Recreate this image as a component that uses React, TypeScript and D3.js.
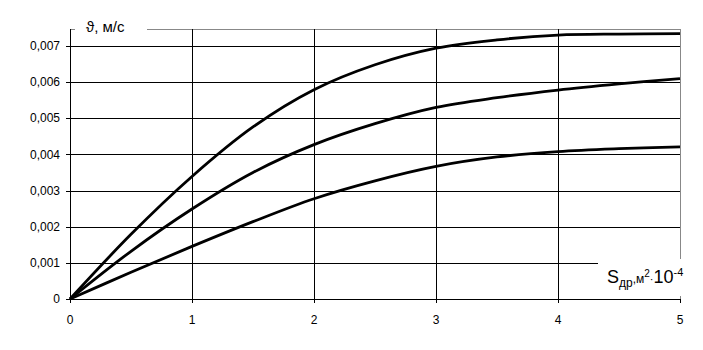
import React from "react";
import * as d3 from "d3";

const xValues = [0, 0.5, 1, 1.5, 2, 2.5, 3, 3.5, 4, 4.5, 5];
const seriesTop = [0, 0.00179, 0.00339, 0.00476, 0.00579, 0.00648, 0.00694, 0.00717, 0.0073, 0.00733, 0.00734];
const seriesMid = [0, 0.00132, 0.00249, 0.0035, 0.00427, 0.00485, 0.0053, 0.00557, 0.00578, 0.00595, 0.0061];
const seriesLow = [0, 0.00074, 0.001455, 0.00214, 0.002775, 0.00327, 0.00367, 0.00393, 0.00408, 0.00416, 0.00421];
const xTicks = [0, 1, 2, 3, 4, 5];
const yTicks = [0, 0.001, 0.002, 0.003, 0.004, 0.005, 0.006, 0.007];

const W = 703;
const H = 350;
const left = 70;
const right = 680;
const bottom = 299;
const top = 29;

export default function App() {
  const x = d3.scaleLinear().domain([0, 5]).range([left, right]);
  const y = d3.scaleLinear().domain([0, 0.007]).range([bottom, 46]);
  const line = d3
    .line<number>()
    .x((_, i) => x(xValues[i]))
    .y((d) => y(d))
    .curve(d3.curveCatmullRom.alpha(0.5));
  const fmt = (v: number) => (v === 0 ? "0" : v.toFixed(3).replace(".", ","));
  const font = "'Liberation Sans', Arial, sans-serif";
  const px = (v: number) => Math.round(v) + 0.5;

  return (
    <svg
      width={W}
      height={H}
      style={{ position: "absolute", left: 0, top: 0, background: "#fff" }}
      fontFamily={font}
    >
      <rect x={0} y={0} width={W} height={H} fill="#fff" />
      {/* frame top & right (gray) */}
      <line x1={left} x2={right} y1={px(top)} y2={px(top)} stroke="#888" strokeWidth={1} />
      <line x1={px(right)} x2={px(right)} y1={top} y2={bottom} stroke="#888" strokeWidth={1} />
      {/* horizontal grid */}
      {yTicks.slice(1).map((t) => (
        <line key={"h" + t} x1={left} x2={right} y1={px(y(t))} y2={px(y(t))} stroke="#000" strokeWidth={1} />
      ))}
      {/* vertical grid */}
      {xTicks.slice(1, 5).map((t) => (
        <line key={"v" + t} x1={px(x(t))} x2={px(x(t))} y1={top} y2={bottom} stroke="#000" strokeWidth={1} />
      ))}
      {/* axes */}
      <line x1={px(left)} x2={px(left)} y1={top} y2={bottom + 4} stroke="#000" strokeWidth={1} />
      <line x1={left} x2={right} y1={px(bottom)} y2={px(bottom)} stroke="#000" strokeWidth={1} />
      {yTicks.map((t) => (
        <line key={"yt" + t} x1={left - 4} x2={left} y1={px(y(t))} y2={px(y(t))} stroke="#000" strokeWidth={1} />
      ))}
      {xTicks.map((t) => (
        <line key={"xt" + t} x1={px(x(t))} x2={px(x(t))} y1={bottom} y2={bottom + 4} stroke="#000" strokeWidth={1} />
      ))}
      {/* curves */}
      {[seriesTop, seriesMid, seriesLow].map((s, i) => (
        <path key={"s" + i} d={line(s) || ""} fill="none" stroke="#000" strokeWidth={2.8} />
      ))}
      {/* tick labels */}
      {yTicks.map((t) => (
        <text key={"yl" + t} x={60} y={y(t)} dy="0.35em" textAnchor="end" fontSize={12} fill="#000">
          {fmt(t)}
        </text>
      ))}
      {xTicks.map((t) => (
        <text key={"xl" + t} x={x(t)} y={320} dy="0.35em" textAnchor="middle" fontSize={12} fill="#000">
          {t}
        </text>
      ))}
      {/* y axis label */}
      <rect x={75} y={16} width={72} height={22} fill="#fff" />
      <text x={86} y={32} fontSize={15} fill="#000">
        ϑ, м/с
      </text>
      {/* x axis label */}
      <rect x={598} y={259} width={100} height={38} fill="#fff" />
      <line x1={px(right)} x2={px(right)} y1={296} y2={bottom} stroke="#888" strokeWidth={1} />
      <text x={607} y={283} fontSize={18} fill="#000">
        S
        <tspan fontSize={12} dy={4}>др</tspan>
        <tspan fontSize={12} dy={-4}>,м</tspan>
        <tspan fontSize={10} dy={-6}>2</tspan>
        <tspan fontSize={11} dy={6}>·</tspan>
        <tspan fontSize={18}>10</tspan>
        <tspan fontSize={11} dy={-7}>-4</tspan>
      </text>
    </svg>
  );
}
